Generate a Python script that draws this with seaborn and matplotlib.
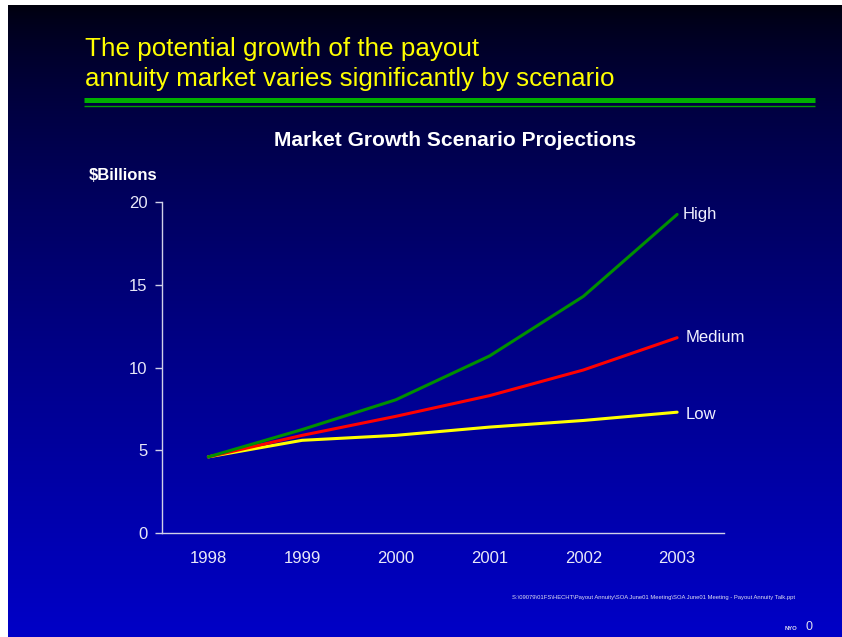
import numpy as np
import pandas as pd
import matplotlib
matplotlib.use("Agg")
import matplotlib.pyplot as plt
import seaborn as sns

# data ($ billions)
years = [1998, 1999, 2000, 2001, 2002, 2003]
high = [4.6, 6.25, 8.05, 10.7, 14.3, 19.25]
medium = [4.6, 5.9, 7.05, 8.3, 9.85, 11.8]
low = [4.6, 5.6, 5.9, 6.4, 6.8, 7.3]
scenarios = ["Low", "Medium", "High"]  # urutan gambar: hijau paling atas
y_ticks = [0, 5, 10, 15, 20]

df = pd.DataFrame({
    "year": years * 3,
    "value": high + medium + low,
    "scenario": ["High"] * 6 + ["Medium"] * 6 + ["Low"] * 6,
})

sns.set_theme(style="white")
plt.rcParams['font.family'] = ['Liberation Sans', 'DejaVu Sans']

W, H = 842, 637
fig = plt.figure(figsize=(W / 100, H / 100), dpi=100, facecolor="white")

# latar belakang gradien (hitam -> biru)
bg = fig.add_axes([8 / W, 0, 1 - 8 / W, 1 - 5 / H])
grad = np.linspace(0, 1, 256)
rgb = np.zeros((256, 1, 3))
rgb[:, 0, 2] = 0.05 + 0.73 * grad ** 0.7
bg.imshow(rgb, aspect="auto", extent=[0, 1, 0, 1], origin="upper")
bg.set_axis_off()

# judul slide
fig.text(85 / W, 1 - 56 / H, "The potential growth of the payout",
         color="#FFFF00", fontsize=18.7, ha="left", va="baseline")
fig.text(85 / W, 1 - 86 / H, "annuity market varies significantly by scenario",
         color="#FFFF00", fontsize=18.7, ha="left", va="baseline")
fig.add_artist(plt.Line2D([84 / W, 815 / W], [1 - 99.5 / H, 1 - 99.5 / H],
                          color="#00B000", lw=3.6, solid_capstyle="butt"))
fig.add_artist(plt.Line2D([84 / W, 815 / W], [1 - 105.5 / H, 1 - 105.5 / H],
                          color="#00A000", lw=1.0, solid_capstyle="butt"))

# grafik utama
ax = fig.add_axes([161.5 / W, 1 - 533 / H, (724 - 161.5) / W, (533 - 202) / H])
ax.set_facecolor("none")
palette = {"High": "#009000", "Medium": "#FF0000", "Low": "#FFFF00"}
sns.lineplot(data=df, x="year", y="value", hue="scenario", hue_order=scenarios,
             palette=palette, lw=2.2, legend=False, ax=ax)

ax.set_xlim(1997.5, 2003.5)
ax.set_ylim(0, 20)
ax.set_yticks(y_ticks)
ax.set_xticks(years)
ax.set_xticks([y - 0.5 for y in years] + [2003.5], minor=True)
ax.tick_params(axis="x", which="major", length=0, pad=13, labelsize=12, colors="#E8E8F8")
ax.tick_params(axis="x", which="minor", length=5, width=1, color="#D0D0E8", direction="out")
ax.tick_params(axis="y", length=5, width=1, color="#D0D0E8", direction="out",
               pad=5, labelsize=12, labelcolor="#E8E8F8", left=True)
ax.set_xlabel("")
ax.set_ylabel("")
for s in ["top", "right"]:
    ax.spines[s].set_visible(False)
for s in ["left", "bottom"]:
    ax.spines[s].set_color("#D0D0E8")
    ax.spines[s].set_linewidth(1)

# label seri di ujung garis
last = {"High": high[-1], "Medium": medium[-1], "Low": low[-1]}
geser = {"High": (4, 0), "Medium": (6, 0), "Low": (6, -1.5)}
for name in scenarios:
    ax.annotate(name, (years[-1], last[name]), xytext=geser[name], textcoords="offset points",
                color="#F0F0FF", fontsize=12, va="center", ha="left")

fig.text(455.5 / W, 1 - 141 / H, "Market Growth Scenario Projections",
         color="white", fontsize=15.1, fontweight="bold", ha="center", va="center")
fig.text(89 / W, 1 - 175 / H, "$Billions", color="white", fontsize=12,
         fontweight="bold", ha="left", va="center")

# catatan kaki
fig.text(795 / W, 1 - 598 / H,
         "S:\\09079\\01FS\\HECHT\\Payout Annuity\\SOA June01 Meeting\\SOA June01 Meeting - Payout Annuity Talk.ppt",
         color="#E0E0F0", fontsize=4.2, ha="right", va="center")
fig.text(797 / W, 1 - 628 / H, "NYO", color="#E0E0F0", fontsize=4.2, fontweight="bold",
         ha="right", va="center")
fig.text(806 / W, 1 - 627 / H, "0", color="#E0E0F0", fontsize=9, ha="left", va="center")

fig.savefig("out.png", dpi=100, facecolor=fig.get_facecolor())
